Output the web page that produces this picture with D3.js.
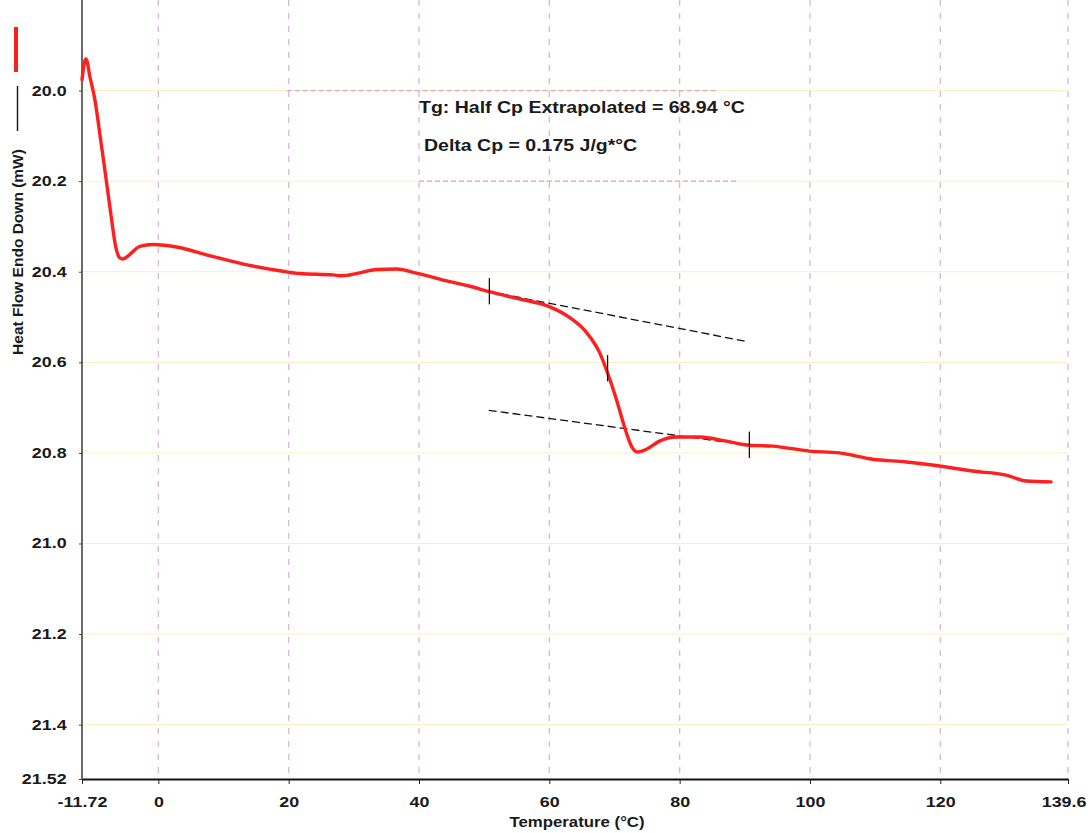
<!DOCTYPE html>
<html>
<head>
<meta charset="utf-8">
<script src="https://cdn.jsdelivr.net/npm/d3@7"></script>
<style>
  body { margin: 0; background: #fff; }
  svg { display: block; font-family: "Liberation Sans", Arial, sans-serif; }
</style>
</head>
<body>
<div class="canvas"></div>
<script>
// DSC scan, values
const temperature = [-11.72, -11.3, -11.1, -10.5, -9.73, -8.96, -8.04, -7.27, -6.5, -5.89, -5.43, -4.81,
  -2.84, -0.84, 3.0, 8.0, 14.0, 19.1, 21.7, 26.8, 28.3, 30.4, 33.5, 36.6, 39.6,
  44.7, 47.8, 50.8, 55.0, 60.0, 63.1, 65.7, 67.7, 68.9, 70.3, 71.5, 72.6, 73.5, 74.9, 76.9,
  79.5, 83.1, 87.2, 90.7, 94.3, 99.9, 104.5, 109.6, 114.8, 119.9, 124.9, 130.1, 133.2, 137.0]
const heatFlow = [19.976, 19.935, 19.930, 19.970, 20.021, 20.098, 20.193, 20.275, 20.348, 20.370, 20.372, 20.367,
  20.344, 20.340, 20.346, 20.365, 20.386, 20.399, 20.404, 20.407, 20.409, 20.404, 20.395, 20.394, 20.403,
  20.422, 20.432, 20.444, 20.459, 20.477, 20.501, 20.534, 20.578, 20.622, 20.682, 20.741, 20.785, 20.798, 20.792, 20.774,
  20.765, 20.765, 20.774, 20.783, 20.785, 20.796, 20.800, 20.814, 20.820, 20.829, 20.840, 20.849, 20.862, 20.864]

// extrapolated baselines [temp, heat flow]
const onsetTangent = [[50.8, 20.444], [90.3, 20.554]]
const endTangent = [[50.7, 20.706], [90.7, 20.783]]
// onset, Tg, end markers
const markers = [[50.8, 20.444], [68.94, 20.614], [90.7, 20.783]]

const xTicks = [-11.72, 0, 20, 40, 60, 80, 100, 120, 139.6]
const xTickLabels = ["-11.72", "0", "20", "40", "60", "80", "100", "120", "139.6"]
const yTicks = [20.0, 20.2, 20.4, 20.6, 20.8, 21.0, 21.2, 21.4, 21.52]
const yTickLabels = ["20.0", "20.2", "20.4", "20.6", "20.8", "21.0", "21.2", "21.4", "21.52"]

const notes = ["Tg: Half Cp Extrapolated = 68.94 °C", "Delta Cp = 0.175 J/g*°C"]

const width = 1088, height = 833
const margin = { top: 0, right: 20, bottom: 54, left: 82 }
const stretch = 1.28 // the scan's lettering is wide

const svg = d3.select(".canvas").append("svg")
  .attr("width", width).attr("height", height)
  .style("background", "#fff")

const x = d3.scaleLinear().domain([-11.72, 139.6]).range([margin.left, width - margin.right])
const y = d3.scaleLinear().domain([19.8, 21.52]).range([margin.top, height - margin.bottom])

// grid
svg.append("g").selectAll("line").data(yTicks.slice(0, -1)).enter().append("line")
  .attr("x1", margin.left).attr("x2", width - margin.right)
  .attr("y1", d => y(d)).attr("y2", d => y(d))
  .attr("stroke", "#f6f3b8").attr("stroke-width", 1)

svg.append("g").selectAll("line").data(xTicks.slice(1)).enter().append("line")
  .attr("x1", d => x(d)).attr("x2", d => x(d))
  .attr("y1", margin.top).attr("y2", y(21.52))
  .attr("stroke", "#d9b6df").attr("stroke-width", 1.3)
  .attr("stroke-dasharray", "6,7")

// faint frame left round the result text
const noteBox = [[[19.7, 20.0], [86, 20.0]], [[40, 20.2], [89, 20.2]]]
svg.append("g").selectAll("line").data(noteBox).enter().append("line")
  .attr("x1", d => x(d[0][0])).attr("x2", d => x(d[1][0]))
  .attr("y1", d => y(d[0][1])).attr("y2", d => y(d[1][1]))
  .attr("stroke", "#dba6c6").attr("stroke-width", 1.2)
  .attr("stroke-dasharray", "5,3")

// axes
const xAxis = svg.append("g")
  .attr("transform", `translate(0,${y(21.52)})`)
  .call(d3.axisBottom(x).tickValues(xTicks).tickFormat((d, i) => xTickLabels[i])
    .tickSize(5).tickSizeOuter(0).tickPadding(13))
xAxis.select(".domain").attr("stroke", "#111").attr("stroke-width", 2)
xAxis.selectAll(".tick line").attr("stroke", "#222")

const yAxis = svg.append("g")
  .attr("transform", `translate(${x(-11.72)},0)`)
  .call(d3.axisLeft(y).tickValues(yTicks).tickFormat((d, i) => yTickLabels[i])
    .tickSize(3).tickSizeOuter(0).tickPadding(9))
yAxis.select(".domain").attr("stroke", "#444").attr("stroke-width", 1.6)
  .attr("d", `M0,${y(19.8)}V${y(21.52)}`)
yAxis.selectAll(".tick line").attr("stroke", "#444")

svg.selectAll(".tick text")
  .attr("font-family", "'Liberation Sans', Arial, sans-serif")
  .attr("font-size", 14).attr("font-weight", "bold").attr("fill", "#1a1a1a")
  .attr("transform", `scale(${stretch},1)`)

// last label would run off the right edge, pull it in
xAxis.selectAll(".tick text").filter((d, i) => i === xTicks.length - 1)
  .attr("text-anchor", "end").attr("x", (width - 2 - x(139.6)) / stretch)

// tangents
const line = d3.line().x(d => x(d[0])).y(d => y(d[1]))
svg.append("g").selectAll("path").data([onsetTangent, endTangent]).enter().append("path")
  .attr("d", line).attr("fill", "none")
  .attr("stroke", "#111").attr("stroke-width", 1.3).attr("stroke-dasharray", "8,4")

// curve
const curve = d3.line()
  .x((d, i) => x(temperature[i]))
  .y(d => y(d))
  .curve(d3.curveMonotoneX)
svg.append("path").datum(heatFlow)
  .attr("d", curve).attr("fill", "none")
  .attr("stroke", "#ff1f1f").attr("stroke-width", 3.4)
  .attr("stroke-linejoin", "round").attr("stroke-linecap", "round")

// marker ticks
svg.append("g").selectAll("line").data(markers).enter().append("line")
  .attr("x1", d => x(d[0])).attr("x2", d => x(d[0]))
  .attr("y1", d => y(d[1] - 0.03)).attr("y2", d => y(d[1] + 0.028))
  .attr("stroke", "#111").attr("stroke-width", 1.3)

// result text
svg.append("g").selectAll("text").data(notes).enter().append("text")
  .attr("transform", (d, i) =>
    `translate(${x(40) + (i ? 5 : 0)},${y(20.0 + 0.085 * i) + 22}) scale(1.22,1)`)
  .attr("font-size", 16).attr("font-weight", "bold").attr("fill", "#1a1a1a")
  .text(d => d)

// axis titles and legend strokes
svg.append("text")
  .attr("transform", `translate(${(x(-11.72) + x(139.6)) / 2 + 2},827) scale(1.2,1)`)
  .attr("text-anchor", "middle").attr("font-size", 14).attr("font-weight", "bold")
  .attr("fill", "#1a1a1a").text("Temperature (°C)")

svg.append("text")
  .attr("transform", "translate(23,252) rotate(-90)")
  .attr("text-anchor", "middle").attr("font-size", 15.5).attr("font-weight", "bold")
  .attr("fill", "#1a1a1a").text("Heat Flow Endo Down (mW)")

svg.append("line").attr("x1", 16).attr("x2", 16).attr("y1", 27).attr("y2", 72)
  .attr("stroke", "#ff1f1f").attr("stroke-width", 4)
svg.append("line").attr("x1", 17.5).attr("x2", 17.5).attr("y1", 86).attr("y2", 131)
  .attr("stroke", "#111").attr("stroke-width", 1.4)
</script>
</body>
</html>
